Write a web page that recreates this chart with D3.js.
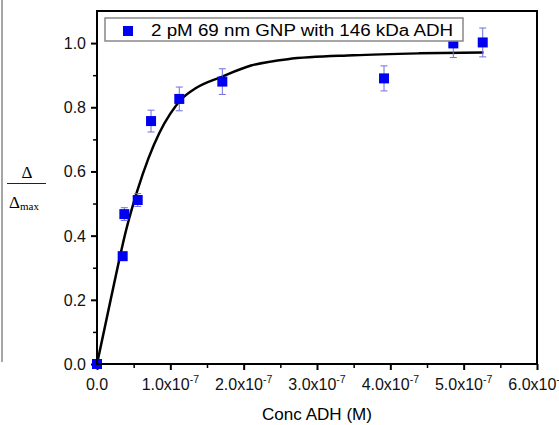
<!DOCTYPE html>
<html lang="en">
<head>
    <meta charset="UTF-8">
    <title>Normalized shift vs ADH concentration</title>
    <script src="https://cdnjs.cloudflare.com/ajax/libs/d3/7.8.5/d3.min.js"></script>
    <style>
        body {
            margin: 0;
            background: #fff;
            font-family: "Liberation Sans", Arial, sans-serif;
        }
        .frame { fill: none; stroke: #000; stroke-width: 2; }
        .tick-label { font-size: 16px; fill: #111; }
        .axis path { display: none; }
        .axis line { stroke: #000; stroke-width: 2; }
        .minor line { stroke: #000; stroke-width: 1.5; }
        .err { stroke: #6f6fe0; stroke-width: 1; }
        .fit { fill: none; stroke: #000; stroke-width: 2.5; }
    </style>
</head>
<body>
<svg id="chart" width="559" height="425"></svg>
<script>
    // --- Data ---
    const concentration = [0, 0.35e-7, 0.373e-7, 0.555e-7, 0.737e-7, 1.122e-7, 1.709e-7, 3.914e-7, 4.859e-7, 5.26e-7];
    const ratio = [0, 0.336, 0.467, 0.511, 0.757, 0.826, 0.88, 0.89, 0.999, 1.002];
    const errors = [0, 0.01, 0.02, 0.02, 0.034, 0.037, 0.04, 0.039, 0.044, 0.045];

    // fitted curve
    const fitX = [0, 0.2e-7, 0.4e-7, 0.55e-7, 0.7e-7, 0.85e-7, 1.0e-7, 1.15e-7, 1.35e-7, 1.7e-7, 2.1e-7, 2.6e-7, 3.5e-7, 4.4e-7, 5.27e-7];
    const fitY = [0, 0.215, 0.42, 0.54, 0.64, 0.72, 0.78, 0.825, 0.86, 0.895, 0.93, 0.95, 0.962, 0.968, 0.971];

    const xTicks = [0, 1e-7, 2e-7, 3e-7, 4e-7, 5e-7, 6e-7];
    const xMinor = [0.5e-7, 1.5e-7, 2.5e-7, 3.5e-7, 4.5e-7, 5.5e-7];
    const yTicks = [0, 0.2, 0.4, 0.6, 0.8, 1.0];
    const yMinor = [0.1, 0.3, 0.5, 0.7, 0.9];
    const legendLabel = "2 pM 69 nm GNP with 146 kDa ADH";

    // --- Layout ---
    const svg = d3.select("#chart");
    const plot = { left: 97, top: 11, right: 537, bottom: 364 };

    const x = d3.scaleLinear().domain([0, 6e-7]).range([plot.left, plot.right]);
    const y = d3.scaleLinear().domain([0, 1.1]).range([plot.bottom, plot.top]);

    // thin border at the left edge of the cropped figure
    svg.append("line")
        .attr("x1", 2).attr("x2", 2).attr("y1", 0).attr("y2", 362)
        .style("stroke", "#888").style("stroke-width", 1.5);

    // --- Axes ---
    svg.append("g")
        .attr("class", "axis")
        .attr("transform", `translate(0,${plot.bottom})`)
        .call(d3.axisBottom(x).tickValues(xTicks).tickSize(6).tickFormat(""));
    svg.append("g")
        .attr("class", "axis minor")
        .attr("transform", `translate(0,${plot.bottom})`)
        .call(d3.axisBottom(x).tickValues(xMinor).tickSize(4).tickFormat(""));

    svg.append("g")
        .attr("class", "axis")
        .attr("transform", `translate(${plot.left},0)`)
        .call(d3.axisLeft(y).tickValues(yTicks).tickSize(6).tickFormat(""));
    svg.append("g")
        .attr("class", "axis minor")
        .attr("transform", `translate(${plot.left},0)`)
        .call(d3.axisLeft(y).tickValues(yMinor).tickSize(4).tickFormat(""));

    // y tick labels
    svg.selectAll(".ylab")
        .data(yTicks)
        .join("text")
        .attr("class", "tick-label")
        .attr("x", plot.left - 11)
        .attr("y", d => y(d) + 6)
        .attr("text-anchor", "end")
        .text(d => d.toFixed(1));

    // x tick labels with superscript exponent
    const xl = svg.selectAll(".xlab")
        .data(xTicks)
        .join("text")
        .attr("class", "tick-label")
        .attr("x", d => x(d))
        .attr("y", plot.bottom + 26)
        .attr("text-anchor", "middle");
    xl.each(function (d) {
        const t = d3.select(this);
        if (d === 0) { t.text("0.0"); return; }
        t.append("tspan").text((d / 1e-7).toFixed(1) + "x10");
        t.append("tspan").attr("dy", -7).style("font-size", "10.5px").text("-7");
    });

    // axis titles
    svg.append("text")
        .attr("x", (plot.left + plot.right) / 2)
        .attr("y", 420)
        .attr("text-anchor", "middle")
        .attr("textLength", 110)
        .attr("lengthAdjust", "spacingAndGlyphs")
        .style("font-size", "16px")
        .text("Conc ADH (M)");

    const yTitle = svg.append("g").style("font-family", "'Liberation Serif', 'Times New Roman', serif");
    yTitle.append("text")
        .attr("x", 27).attr("y", 178)
        .attr("text-anchor", "middle")
        .style("font-size", "17px")
        .text("Δ");
    yTitle.append("line")
        .attr("x1", 7).attr("x2", 46).attr("y1", 183.5).attr("y2", 183.5)
        .style("stroke", "#222").style("stroke-width", 1);
    const den = yTitle.append("text").attr("x", 9).attr("y", 208).style("font-size", "17px");
    den.append("tspan").text("Δ");
    den.append("tspan").attr("dy", 2).style("font-size", "11px").text("max");

    // --- Fit curve ---
    const fitData = fitX.map((v, i) => [v, fitY[i]]);
    svg.append("path")
        .datum(fitData)
        .attr("class", "fit")
        .attr("d", d3.line().x(d => x(d[0])).y(d => y(d[1])).curve(d3.curveMonotoneX));

    // --- Error bars ---
    const pts = concentration.map((c, i) => ({ c, r: ratio[i], e: errors[i] }));
    const eb = svg.append("g");
    pts.filter(d => d.e > 0).forEach(d => {
        eb.append("line").attr("class", "err")
            .attr("x1", x(d.c)).attr("x2", x(d.c)).attr("y1", y(d.r - d.e)).attr("y2", y(d.r + d.e));
        [d.r - d.e, d.r + d.e].forEach(v => {
            eb.append("line").attr("class", "err")
                .attr("x1", x(d.c) - 3.5).attr("x2", x(d.c) + 3.5).attr("y1", y(v)).attr("y2", y(v));
        });
    });

    // --- Points ---
    const size = 10;
    svg.selectAll(".pt")
        .data(pts)
        .join("rect")
        .attr("x", d => x(d.c) - size / 2)
        .attr("y", d => y(d.r) - size / 2)
        .attr("width", size)
        .attr("height", size)
        .attr("fill", "#0000f0");

    // --- Legend ---
    const lg = svg.append("g");
    lg.append("rect")
        .attr("x", 105).attr("y", 18).attr("width", 358).attr("height", 23)
        .attr("fill", "#fff").attr("stroke", "#888").attr("stroke-width", 1.5);
    lg.append("rect")
        .attr("x", 123).attr("y", 26).attr("width", size).attr("height", size)
        .attr("fill", "#0000f0");
    lg.append("text")
        .attr("x", 151).attr("y", 36)
        .attr("textLength", 302)
        .attr("lengthAdjust", "spacingAndGlyphs")
        .style("font-size", "16px")
        .text(legendLabel);

    // --- Frame ---
    svg.append("rect")
        .attr("class", "frame")
        .attr("x", plot.left).attr("y", plot.top)
        .attr("width", plot.right - plot.left).attr("height", plot.bottom - plot.top);
</script>
</body>
</html>
